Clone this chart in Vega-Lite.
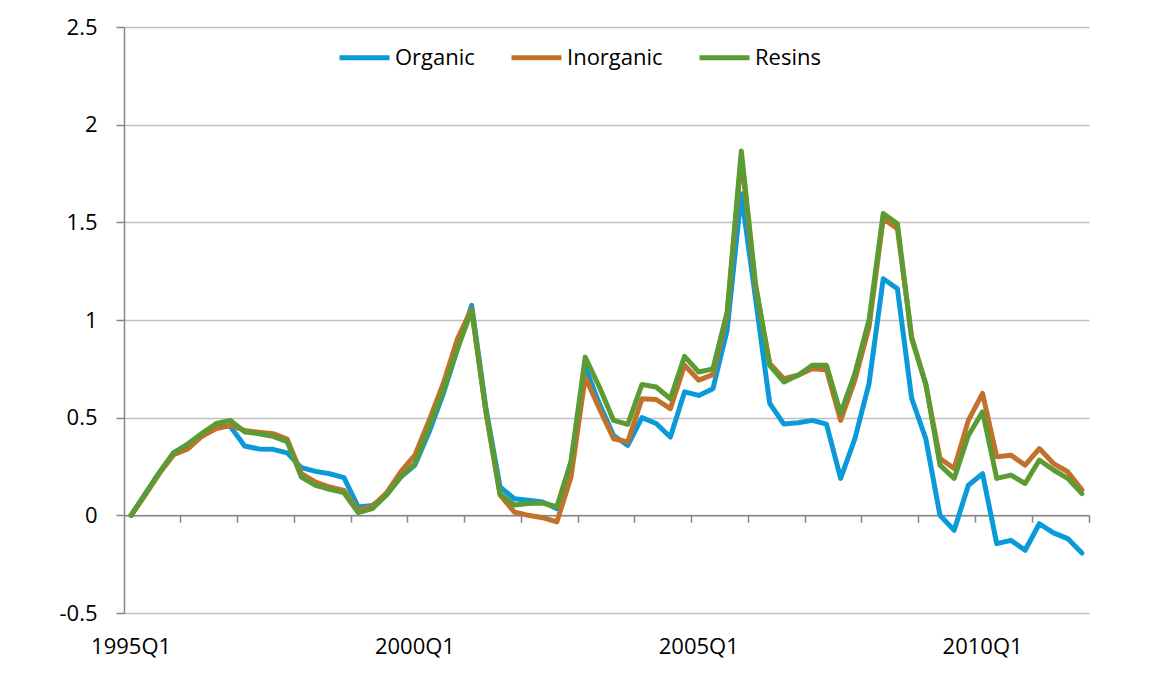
{
  "$schema": "https://vega.github.io/schema/vega-lite/v6.json",
  "width": 965,
  "height": 586,
  "autosize": {"type": "none"},
  "padding": {"left": 124, "top": 27, "right": 61, "bottom": 62},
  "background": "white",
  "config": {
    "font": "Open Sans",
    "view": {"stroke": null},
    "axis": {"labelFont": "Open Sans", "labelFontSize": 22, "labelColor": "#000000", "title": null}
  },
  "data": {
    "values": [
      {"quarter": "1995Q1", "Organic": 0, "Inorganic": 0, "Resins": 0},
      {"quarter": "1995Q2", "Organic": 0.11, "Inorganic": 0.105, "Resins": 0.11},
      {"quarter": "1995Q3", "Organic": 0.22, "Inorganic": 0.215, "Resins": 0.22},
      {"quarter": "1995Q4", "Organic": 0.32, "Inorganic": 0.31, "Resins": 0.32},
      {"quarter": "1996Q1", "Organic": 0.365, "Inorganic": 0.34, "Resins": 0.365},
      {"quarter": "1996Q2", "Organic": 0.415, "Inorganic": 0.405, "Resins": 0.42},
      {"quarter": "1996Q3", "Organic": 0.46, "Inorganic": 0.444, "Resins": 0.47},
      {"quarter": "1996Q4", "Organic": 0.455, "Inorganic": 0.46, "Resins": 0.486},
      {"quarter": "1997Q1", "Organic": 0.355, "Inorganic": 0.435, "Resins": 0.427},
      {"quarter": "1997Q2", "Organic": 0.34, "Inorganic": 0.425, "Resins": 0.418},
      {"quarter": "1997Q3", "Organic": 0.338, "Inorganic": 0.418, "Resins": 0.404},
      {"quarter": "1997Q4", "Organic": 0.32, "Inorganic": 0.39, "Resins": 0.377},
      {"quarter": "1998Q1", "Organic": 0.244, "Inorganic": 0.213, "Resins": 0.196},
      {"quarter": "1998Q2", "Organic": 0.225, "Inorganic": 0.17, "Resins": 0.154},
      {"quarter": "1998Q3", "Organic": 0.213, "Inorganic": 0.145, "Resins": 0.133},
      {"quarter": "1998Q4", "Organic": 0.193, "Inorganic": 0.128, "Resins": 0.116},
      {"quarter": "1999Q1", "Organic": 0.043, "Inorganic": 0.026, "Resins": 0.014},
      {"quarter": "1999Q2", "Organic": 0.05, "Inorganic": 0.045, "Resins": 0.034},
      {"quarter": "1999Q3", "Organic": 0.104, "Inorganic": 0.115, "Resins": 0.104},
      {"quarter": "1999Q4", "Organic": 0.196, "Inorganic": 0.222, "Resins": 0.196},
      {"quarter": "2000Q1", "Organic": 0.257, "Inorganic": 0.308, "Resins": 0.265},
      {"quarter": "2000Q2", "Organic": 0.426, "Inorganic": 0.486, "Resins": 0.452},
      {"quarter": "2000Q3", "Organic": 0.623, "Inorganic": 0.675, "Resins": 0.64},
      {"quarter": "2000Q4", "Organic": 0.853, "Inorganic": 0.904, "Resins": 0.853},
      {"quarter": "2001Q1", "Organic": 1.075, "Inorganic": 1.058, "Resins": 1.049},
      {"quarter": "2001Q2", "Organic": 0.55, "Inorganic": 0.53, "Resins": 0.535},
      {"quarter": "2001Q3", "Organic": 0.145, "Inorganic": 0.104, "Resins": 0.11},
      {"quarter": "2001Q4", "Organic": 0.085, "Inorganic": 0.017, "Resins": 0.053},
      {"quarter": "2002Q1", "Organic": 0.077, "Inorganic": 0.0, "Resins": 0.06},
      {"quarter": "2002Q2", "Organic": 0.068, "Inorganic": -0.012, "Resins": 0.063},
      {"quarter": "2002Q3", "Organic": 0.034, "Inorganic": -0.034, "Resins": 0.044},
      {"quarter": "2002Q4", "Organic": 0.274, "Inorganic": 0.196, "Resins": 0.274},
      {"quarter": "2003Q1", "Organic": 0.76, "Inorganic": 0.708, "Resins": 0.81},
      {"quarter": "2003Q2", "Organic": 0.571, "Inorganic": 0.546, "Resins": 0.657},
      {"quarter": "2003Q3", "Organic": 0.409, "Inorganic": 0.392, "Resins": 0.486},
      {"quarter": "2003Q4", "Organic": 0.358, "Inorganic": 0.376, "Resins": 0.466},
      {"quarter": "2004Q1", "Organic": 0.5, "Inorganic": 0.597, "Resins": 0.67},
      {"quarter": "2004Q2", "Organic": 0.47, "Inorganic": 0.593, "Resins": 0.657},
      {"quarter": "2004Q3", "Organic": 0.401, "Inorganic": 0.546, "Resins": 0.597},
      {"quarter": "2004Q4", "Organic": 0.632, "Inorganic": 0.768, "Resins": 0.814},
      {"quarter": "2005Q1", "Organic": 0.614, "Inorganic": 0.692, "Resins": 0.734},
      {"quarter": "2005Q2", "Organic": 0.648, "Inorganic": 0.72, "Resins": 0.75},
      {"quarter": "2005Q3", "Organic": 0.948, "Inorganic": 1.025, "Resins": 1.04},
      {"quarter": "2005Q4", "Organic": 1.646, "Inorganic": 1.835, "Resins": 1.865},
      {"quarter": "2006Q1", "Organic": 1.11, "Inorganic": 1.17, "Resins": 1.186},
      {"quarter": "2006Q2", "Organic": 0.573, "Inorganic": 0.777, "Resins": 0.768},
      {"quarter": "2006Q3", "Organic": 0.467, "Inorganic": 0.7, "Resins": 0.683},
      {"quarter": "2006Q4", "Organic": 0.474, "Inorganic": 0.717, "Resins": 0.717},
      {"quarter": "2007Q1", "Organic": 0.486, "Inorganic": 0.75, "Resins": 0.768},
      {"quarter": "2007Q2", "Organic": 0.467, "Inorganic": 0.745, "Resins": 0.768},
      {"quarter": "2007Q3", "Organic": 0.189, "Inorganic": 0.486, "Resins": 0.522},
      {"quarter": "2007Q4", "Organic": 0.392, "Inorganic": 0.692, "Resins": 0.725},
      {"quarter": "2008Q1", "Organic": 0.674, "Inorganic": 0.964, "Resins": 1.0},
      {"quarter": "2008Q2", "Organic": 1.211, "Inorganic": 1.519, "Resins": 1.545},
      {"quarter": "2008Q3", "Organic": 1.16, "Inorganic": 1.468, "Resins": 1.493},
      {"quarter": "2008Q4", "Organic": 0.6, "Inorganic": 0.914, "Resins": 0.905},
      {"quarter": "2009Q1", "Organic": 0.392, "Inorganic": 0.668, "Resins": 0.674},
      {"quarter": "2009Q2", "Organic": 0.0, "Inorganic": 0.291, "Resins": 0.257},
      {"quarter": "2009Q3", "Organic": -0.077, "Inorganic": 0.24, "Resins": 0.189},
      {"quarter": "2009Q4", "Organic": 0.154, "Inorganic": 0.486, "Resins": 0.409},
      {"quarter": "2010Q1", "Organic": 0.213, "Inorganic": 0.624, "Resins": 0.53},
      {"quarter": "2010Q2", "Organic": -0.145, "Inorganic": 0.3, "Resins": 0.189},
      {"quarter": "2010Q3", "Organic": -0.128, "Inorganic": 0.308, "Resins": 0.206},
      {"quarter": "2010Q4", "Organic": -0.179, "Inorganic": 0.257, "Resins": 0.163},
      {"quarter": "2011Q1", "Organic": -0.043, "Inorganic": 0.342, "Resins": 0.283},
      {"quarter": "2011Q2", "Organic": -0.09, "Inorganic": 0.265, "Resins": 0.232},
      {"quarter": "2011Q3", "Organic": -0.119, "Inorganic": 0.223, "Resins": 0.189},
      {"quarter": "2011Q4", "Organic": -0.193, "Inorganic": 0.131, "Resins": 0.111}
    ]
  },
  "transform": [{"fold": ["Organic", "Inorganic", "Resins"], "as": ["series", "value"]}],
  "encoding": {
    "y": {
      "field": "value",
      "type": "quantitative",
      "scale": {"domain": [-0.5, 2.5], "nice": false, "zero": false},
      "axis": {
        "title": null,
        "values": [-0.5, 0, 0.5, 1, 1.5, 2, 2.5],
        "labelExpr": "datum.value + ''",
        "grid": true,
        "gridColor": "#c0c0c0",
        "gridWidth": 1.3,
        "domain": true,
        "domainColor": "#868686",
        "domainWidth": 1.5,
        "ticks": true,
        "tickColor": "#868686",
        "tickWidth": 1.5,
        "tickSize": 8,
        "labelPadding": 19
      }
    }
  },
  "layer": [
    {
      "mark": {"type": "line", "opacity": 0},
      "encoding": {
        "x": {
          "field": "quarter",
          "type": "ordinal",
          "sort": null,
          "bandPosition": 0.5,
          "scale": {"type": "band", "paddingInner": 0, "paddingOuter": 0},
          "axis": {
            "title": null,
            "orient": "bottom",
            "values": ["1995Q1", "2000Q1", "2005Q1", "2010Q1"],
            "labelAngle": 0,
            "ticks": false,
            "tickSize": 0,
            "domain": false,
            "grid": false,
            "labelPadding": 23
          }
        },
        "detail": {"field": "series"}
      }
    },
    {
      "mark": {"type": "line", "strokeWidth": 5, "strokeJoin": "round", "strokeCap": "round"},
      "encoding": {
        "x": {
          "field": "quarter",
          "type": "ordinal",
          "sort": null,
          "bandPosition": 0.5,
          "scale": {"type": "band", "paddingInner": 0, "paddingOuter": 0},
          "axis": {
            "title": null,
            "orient": "bottom",
            "values": ["1995Q4", "1996Q4", "1997Q4", "1998Q4", "1999Q4", "2000Q4", "2001Q4", "2002Q4", "2003Q4", "2004Q4", "2005Q4", "2006Q4", "2007Q4", "2008Q4", "2009Q4", "2010Q4", "2011Q4"],
            "bandPosition": 1,
            "labels": false,
            "ticks": true,
            "tickSize": 7,
            "tickColor": "#868686",
            "tickWidth": 1.5,
            "domain": true,
            "domainColor": "#868686",
            "domainWidth": 1.5,
            "grid": false,
            "offset": -97.7
          }
        },
        "color": {
          "field": "series",
          "type": "nominal",
          "sort": ["Organic", "Inorganic", "Resins"],
          "scale": {"domain": ["Organic", "Inorganic", "Resins"], "range": ["#0a9ad9", "#c0722d", "#5c9b33"]},
          "legend": {
            "title": null,
            "orient": "none",
            "legendX": 213,
            "legendY": 3,
            "direction": "horizontal",
            "columns": 3,
            "padding": 0,
            "symbolType": "stroke",
            "symbolSize": 2500,
            "symbolStrokeWidth": 5,
            "labelFont": "Open Sans",
            "labelFontSize": 22,
            "labelColor": "#000000",
            "labelOffset": 3,
            "columnPadding": 26
          }
        }
      }
    }
  ],
  "resolve": {"axis": {"x": "independent"}}
}
